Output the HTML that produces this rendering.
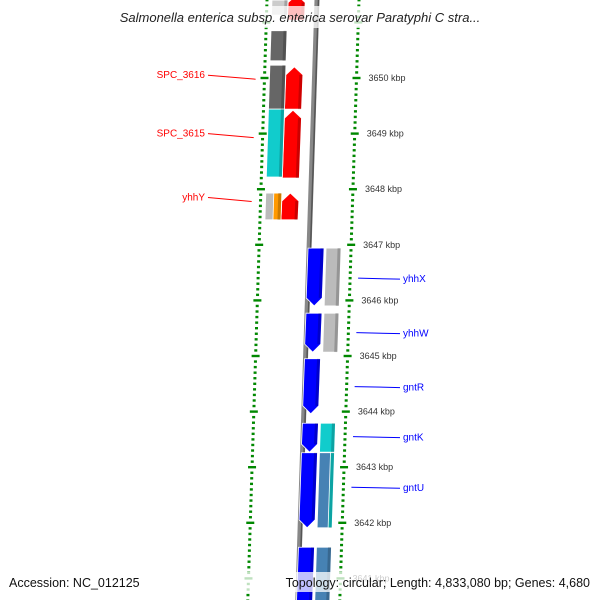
<!DOCTYPE html>
<html><head><meta charset="utf-8"><style>
body{margin:0;background:#fff}
svg{display:block;font-family:"Liberation Sans",sans-serif}
</style></head><body>
<svg id="map" width="600" height="600" viewBox="0 0 600 600" xmlns="http://www.w3.org/2000/svg">
<g id="ticks"></g>
<g id="genes"></g>
<g id="labels"></g>
<rect x="85" y="6" width="430" height="22" fill="#fff" fill-opacity="0.75"/>
<text x="300" y="22" text-anchor="middle" font-style="italic" font-size="13" fill="#222">Salmonella enterica subsp. enterica serovar Paratyphi C stra...</text>
<rect x="4" y="572" width="592" height="20" fill="#fff" fill-opacity="0.75"/>
<text x="9" y="587" font-size="12.5" fill="#111">Accession: NC_012125</text>
<text x="590" y="587" text-anchor="end" font-size="12.5" fill="#111">Topology: circular; Length: 4,833,080 bp; Genes: 4,680</text>
</svg>
<script>
// gene data (kbp)
const geneStart=[3651.04,3649.44,3648.20,3647.45, 3651.13,3650.31,3649.44,3648.22,3647.45,3647.45, 3645.90,3645.07,3643.96,3643.27,3641.91,3640.40, 3645.90,3645.07,3643.27,3641.91,3641.91,3640.40];
const geneEnd  =[3651.50,3650.20,3649.42,3647.93, 3651.40,3650.85,3650.23,3649.44,3647.93,3647.93, 3646.94,3645.77,3644.95,3643.79,3643.26,3641.56, 3646.94,3645.77,3643.79,3643.26,3643.26,3641.56];
const geneRing =[0,0,0,0, 1,1,1,1,1,4, 2,2,2,2,2,2, 3,3,3,3,5,3];
const geneColor=["#f00","#f00","#f00","#f00","#ccc","#666","#666","#1cc","#bbb","#f90",
 "#00f","#00f","#00f","#00f","#00f","#00f","#bbb","#bbb","#1cc","#4682b4","#1cc","#4682b4"];
const geneArrow=[1,1,1,1,0,0,0,0,0,0, -1,-1,-1,-1,-1,-1, 0,0,0,0,0,0];
const leftLabels=["SPC_3616","SPC_3615","yhhY"];
const leftLabelKbp=[3650.05,3649.0,3647.85];
const rightLabels=["yhhX","yhhW","gntR","gntK","gntU"];
const rightLabelKbp=[3646.4,3645.42,3644.45,3643.55,3642.64];
const tickLabels=[3650,3649,3648,3647,3646,3645,3644,3643,3642,3641];

const NS="http://www.w3.org/2000/svg";
function yOf(k){return 78+(3650-k)*55.6;}
function bx(y){return 317-0.032*y;}
const ringOff=[[-29,-12],[-45,-29],[-1,15],[17,32],[-37,-29],[28,32]];
function el(t,a,p){const e=document.createElementNS(NS,t);for(const k in a)e.setAttribute(k,a[k]);p.appendChild(e);return e;}
const T=document.getElementById('ticks'),G=document.getElementById('genes'),L=document.getElementById('labels');
// backbone
const bb=el('line',{x1:bx(-5),y1:-5,x2:bx(605),y2:605,stroke:'#888','stroke-width':5},T);


el('line',{x1:bx(-5)+1.5,y1:-5,x2:bx(605)+1.5,y2:605,stroke:'#555','stroke-width':1.5},T);
// ticks
for(let i=0;i<=130;i++){
 const k=3651.5-i*0.1, y=yOf(k); if(y<-5||y>605)continue;
 const major=Math.abs(k-Math.round(k))<0.01;
 const w=major?8:3;
 const rx=bx(y)+42, lx=bx(y)-50;
 const r=el('rect',{x:rx-w/2,y:y-1.2,width:w,height:2.4,fill:'#080'},T);
 
 
 el('rect',{x:lx-w/2,y:y-1.2,width:w,height:2.4,fill:'#080'},T);
}
tickLabels.forEach(k=>{const y=yOf(k);const t=el('text',{x:bx(y)+54,y:y+3,'font-size':9,fill:'#333'},T);t.textContent=k+' kbp';
 
 });
// genes
for(let i=0;i<geneStart.length;i++){
 const y1=yOf(geneEnd[i]),y2=yOf(geneStart[i]);
 const o=ringOff[geneRing[i]];
 const xa1=bx(y1)+o[0],xa2=bx(y1)+o[1],xb1=bx(y2)+o[0],xb2=bx(y2)+o[1];
 const ah=8;let pts;
 if(geneArrow[i]===1){const mx=(xa1+xa2)/2;pts=[[mx,y1],[xa2,y1+ah],[xb2,y2],[xb1,y2],[xa1,y1+ah]];}
 else if(geneArrow[i]===-1){const mx=(xb1+xb2)/2;pts=[[xa1,y1],[xa2,y1],[xb2,y2-ah],[mx,y2],[xb1,y2-ah]];}
 else pts=[[xa1,y1],[xa2,y1],[xb2,y2],[xb1,y2]];
 const p=el('polygon',{points:pts.map(q=>q.join(',')).join(' '),fill:geneColor[i],stroke:'#fff','stroke-width':0.8},G);
 
 
 el('line',{x1:xa2-2,y1:y1+(geneArrow[i]===1?ah:0),x2:xb2-2,y2:y2-(geneArrow[i]===-1?ah:0),stroke:'#000','stroke-opacity':0.2,'stroke-width':3},G);
}
leftLabels.forEach((s,i)=>{const y=yOf(leftLabelKbp[i]);
 el('line',{x1:208,y1:y,x2:bx(y)-59,y2:y+4,stroke:'#f00','stroke-width':1},L);
 const t=el('text',{x:205,y:y+3,'text-anchor':'end','font-size':10,fill:'#f00'},L);t.textContent=s;
 
 });
rightLabels.forEach((s,i)=>{const y=yOf(rightLabelKbp[i]);
 el('line',{x1:bx(y)+50,y1:y,x2:400,y2:y+1,stroke:'#00f','stroke-width':1},L);
 const t=el('text',{x:403,y:y+4,'font-size':10,fill:'#00f'},L);t.textContent=s;
 
 });
</script>
</body></html>
